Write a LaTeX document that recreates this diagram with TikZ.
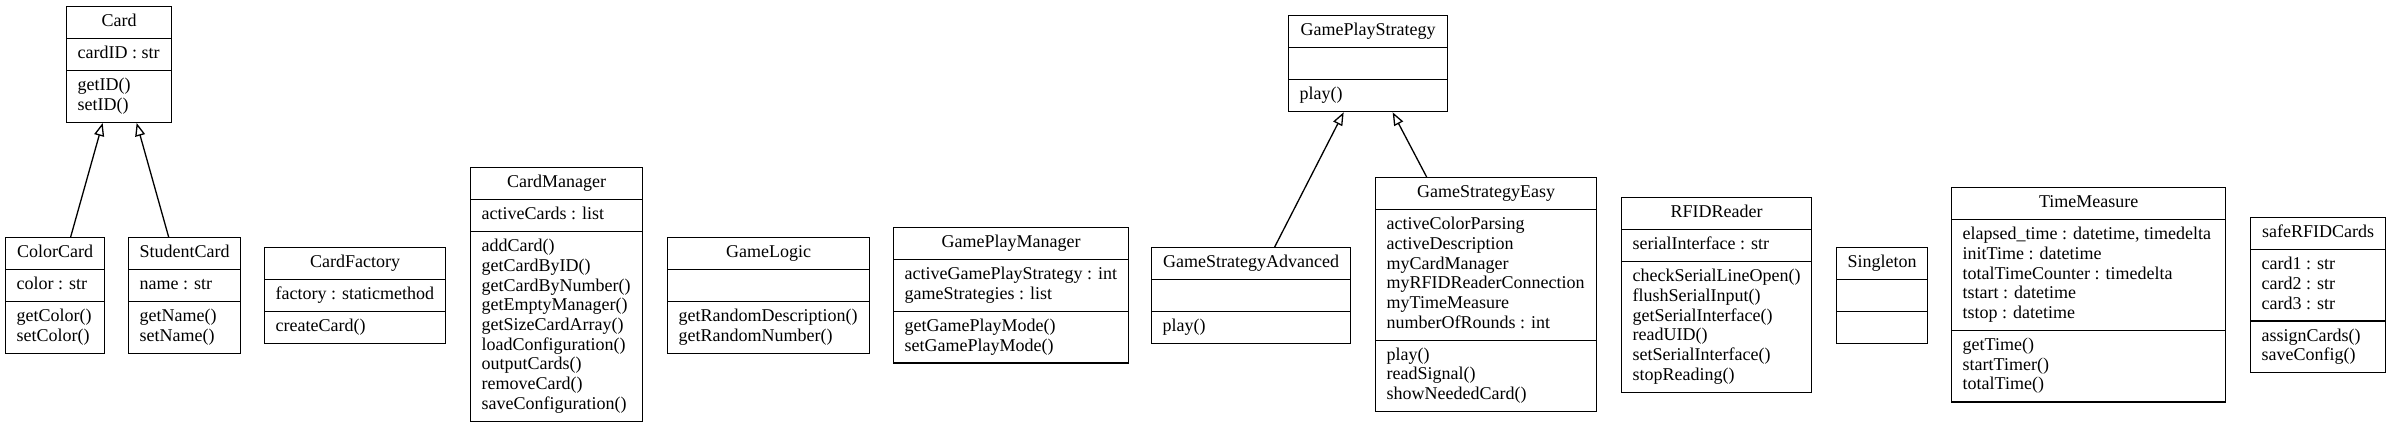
\documentclass[tikz,border=0pt]{standalone}
\usepackage{fontspec}
\setmainfont{Liberation Serif}
\usetikzlibrary{shapes.multipart,arrows.meta}
\newcommand\cstrut{\rule[-5.9pt]{0pt}{19.7pt}}
\newcommand\cl[1]{\cstrut #1\par}
\newcommand\ctitle[2]{\makebox[#1pt]{\cstrut #2}}
\newcommand\clines[2]{\parbox{#1pt}{\leftskip=11pt\rightskip=0pt plus 1fil\parindent=0pt\parskip=0pt\baselineskip=19.7pt\lineskip=0pt #2}}
\tikzset{
  umlclass/.style={draw, line width=1.3pt, rectangle split, rectangle split parts=3,
    inner xsep=0pt, inner ysep=5.5pt, anchor=north west,
    font=\fontsize{18pt}{19.7pt}\selectfont},
  inherit/.style={line width=1.3pt, -{Triangle[open, length=13pt, width=10pt, line width=1.3pt]}}
}
\newcommand\umlclass[7]{\node[umlclass] (#1) at (#2pt,-#3pt) {\ctitle{#4}{#5}\nodepart{two}\clines{#4}{#6}\nodepart{three}\clines{#4}{#7}};}
\begin{document}
\begin{tikzpicture}
\useasboundingbox (0,0) rectangle (2390pt,-425pt);
\umlclass{card}{66}{6}{105}{Card}{\cl{cardID : str}}{\cl{getID()}\cl{setID()}}
\umlclass{colorcard}{5}{237}{99}{ColorCard}{\cl{color : str}}{\cl{getColor()}\cl{setColor()}}
\umlclass{studentcard}{128}{237}{112}{StudentCard}{\cl{name : str}}{\cl{getName()}\cl{setName()}}
\umlclass{cardfactory}{264}{247}{181}{CardFactory}{\cl{factory : staticmethod}}{\cl{createCard()}}
\umlclass{cardmanager}{470}{167}{172}{CardManager}{\cl{activeCards : list}}{\cl{addCard()}\cl{getCardByID()}\cl{getCardByNumber()}\cl{getEmptyManager()}\cl{getSizeCardArray()}\cl{loadConfiguration()}\cl{outputCards()}\cl{removeCard()}\cl{saveConfiguration()}}
\umlclass{gamelogic}{667}{237}{202}{GameLogic}{\cl{}}{\cl{getRandomDescription()}\cl{getRandomNumber()}}
\umlclass{gameplaymanager}{893}{227}{235}{GamePlayManager}{\cl{activeGamePlayStrategy : int}\cl{gameStrategies : list}}{\cl{getGamePlayMode()}\cl{setGamePlayMode()}}
\umlclass{advanced}{1151}{247}{199}{GameStrategyAdvanced}{\cl{}}{\cl{play()}}
\umlclass{strategy}{1288}{15}{159}{GamePlayStrategy}{\cl{}}{\cl{play()}}
\umlclass{easy}{1375}{177}{221}{GameStrategyEasy}{\cl{activeColorParsing}\cl{activeDescription}\cl{myCardManager}\cl{myRFIDReaderConnection}\cl{myTimeMeasure}\cl{numberOfRounds : int}}{\cl{play()}\cl{readSignal()}\cl{showNeededCard()}}
\umlclass{rfid}{1621}{197}{190}{RFIDReader}{\cl{serialInterface : str}}{\cl{checkSerialLineOpen()}\cl{flushSerialInput()}\cl{getSerialInterface()}\cl{readUID()}\cl{setSerialInterface()}\cl{stopReading()}}
\umlclass{singleton}{1836}{247}{91}{Singleton}{\cl{}}{\cl{}}
\umlclass{timemeasure}{1951}{187}{274}{TimeMeasure}{\cl{elapsed\_time : datetime, timedelta}\cl{initTime : datetime}\cl{totalTimeCounter : timedelta}\cl{tstart : datetime}\cl{tstop : datetime}}{\cl{getTime()}\cl{startTimer()}\cl{totalTime()}}
\umlclass{safecards}{2250}{217}{135}{safeRFIDCards}{\cl{card1 : str}\cl{card2 : str}\cl{card3 : str}}{\cl{assignCards()}\cl{saveConfig()}}
\draw[inherit] ([xshift=15.5pt]colorcard.north) -- ([xshift=-16.5pt]card.south);
\draw[inherit] ([xshift=-16pt]studentcard.north) -- ([xshift=17.5pt]card.south);
\draw[inherit] ([xshift=23.5pt]advanced.north) -- ([xshift=-24.5pt]strategy.south);
\draw[inherit] ([xshift=-59.5pt]easy.north) -- ([xshift=24.5pt]strategy.south);
\end{tikzpicture}
\end{document}
